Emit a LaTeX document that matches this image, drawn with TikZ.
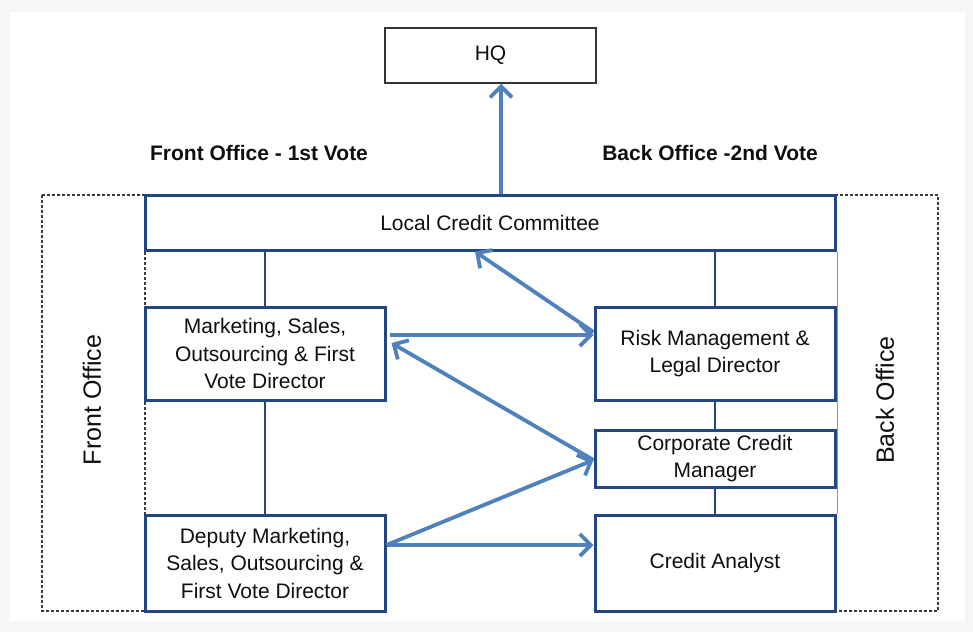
\documentclass[tikz,border=0pt]{standalone}
\usepackage{fontspec}
\setmainfont{Liberation Sans}
\usetikzlibrary{arrows.meta,calc}
\definecolor{boxblue}{RGB}{33,70,128}
\definecolor{arrblue}{RGB}{79,129,189}
\definecolor{sideblue}{RGB}{125,152,192}
\definecolor{dashgray}{RGB}{60,60,60}
\definecolor{bggray}{RGB}{246,246,246}
\definecolor{txt}{RGB}{15,15,15}
\tikzset{
  bx/.style={draw=boxblue,line width=3pt,fill=white,inner sep=0pt,align=center,
    text=txt,font=\fontsize{21}{27.5}\selectfont},
  hqbox/.style={draw=black!80,line width=1.5pt,fill=white,inner sep=0pt,
    text=txt,font=\fontsize{21}{27.5}\selectfont},
  conn/.style={draw=boxblue,line width=2.6pt},
  arr/.style={draw=arrblue,line width=3.8pt,-{Straight Barb[length=11pt,width=22pt]}},
  dashbox/.style={draw=dashgray,line width=1.9pt,dash pattern=on 3pt off 2pt},
  sideline/.style={draw=sideblue,line width=1.8pt},
  head/.style={font=\fontsize{21}{25}\selectfont\bfseries,text=txt,inner sep=0pt},
  side/.style={font=\fontsize{25}{30}\selectfont,text=txt,inner sep=0pt,rotate=90}
}
\begin{document}
\begin{tikzpicture}[x=1pt,y=-1pt]
\useasboundingbox (0,0) rectangle (973,632);
\fill[bggray] (0,0) rectangle (973,632);
\fill[white] (10,12) rectangle (965,621);

% dashed office regions
\draw[dashbox] (42,195) rectangle (145,611);
\draw[dashbox] (835,195) -- (938,195) -- (938,611) -- (835,611);

% boxes
\node[hqbox,minimum width=211pt,minimum height=55pt] (hq) at (490.5,55.5) {HQ};
\node[bx,minimum width=690pt,minimum height=55pt] (lcc) at (490,222.5) {Local Credit Committee};
\node[bx,minimum width=240pt,minimum height=93pt] (mkt) at (265,353.5) {Marketing, Sales,\\Outsourcing \& First\\Vote Director};
\node[bx,minimum width=240pt,minimum height=96pt] (dep) at (265,563) {Deputy Marketing,\\Sales, Outsourcing \&\\First Vote Director};
\node[bx,minimum width=240pt,minimum height=93pt] (rsk) at (715,353.5) {Risk Management \&\\Legal Director};
\node[bx,minimum width=240pt,minimum height=57pt] (ccm) at (715,458.5) {Corporate Credit\\Manager};
\node[bx,minimum width=240pt,minimum height=96pt] (ca) at (715,563) {Credit Analyst};

% light side line on the right
\draw[sideline] ([xshift=1pt]lcc.south east) -- ([xshift=1pt]ca.north east);

% hierarchy connectors
\draw[conn] (lcc.south -| mkt.north) -- (mkt.north);
\draw[conn] (mkt.south) -- (dep.north);
\draw[conn] (lcc.south -| rsk.north) -- (rsk.north);
\draw[conn] (rsk.south) -- (ccm.north);
\draw[conn] (ccm.south) -- (ca.north);

% headings
\node[head] (fohead) at (259,153) {Front Office - 1st Vote};
\node[head] (bohead) at (710,153) {Back Office -2nd Vote};
\node[side] (foside) at (92,400) {Front Office};
\node[side] (boside) at (885,400) {Back Office};

% flow arrows
\draw[arr] ([xshift=11pt]lcc.north) -- ([xshift=10.5pt]hq.south);
\draw[arr] ([yshift=21.5pt]rsk.west) -- ([xshift=-15pt]lcc.south);
\draw[arr] ([xshift=3pt,yshift=18.5pt]mkt.east) -- ([yshift=18.5pt]rsk.west);
\draw[arr] ([yshift=-1.5pt]ccm.west) -- ([xshift=5pt,yshift=10.5pt]mkt.east);
\draw[arr] ([yshift=18pt]dep.east) -- ([yshift=-1.5pt]ccm.west);
\draw[arr] ([yshift=18pt]dep.east) -- ([yshift=18pt]ca.west);
\end{tikzpicture}
\end{document}
